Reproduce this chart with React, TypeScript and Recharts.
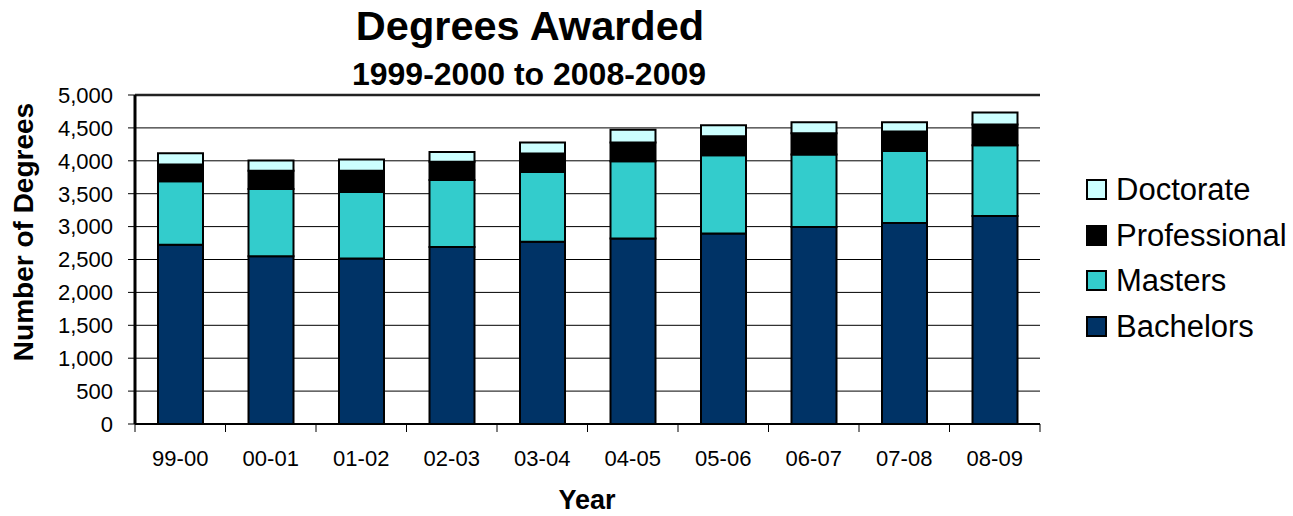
import React from 'react';
import {
  BarChart,
  Bar,
  XAxis,
  YAxis,
  CartesianGrid,
  ReferenceLine
} from 'recharts';

const years = ['99-00', '00-01', '01-02', '02-03', '03-04', '04-05', '05-06', '06-07', '07-08', '08-09'];
const bachelors = [2725, 2550, 2515, 2690, 2770, 2820, 2895, 2995, 3055, 3160];
const masters = [965, 1020, 1010, 1020, 1060, 1175, 1190, 1100, 1095, 1075];
const professional = [255, 280, 325, 275, 280, 285, 290, 325, 295, 315];
const doctorate = [170, 155, 170, 150, 170, 190, 165, 165, 140, 185];
const yTicks = [0, 500, 1000, 1500, 2000, 2500, 3000, 3500, 4000, 4500, 5000];

const series = [
  { key: 'bachelors', name: 'Bachelors', color: '#003366' },
  { key: 'masters', name: 'Masters', color: '#33CCCC' },
  { key: 'professional', name: 'Professional', color: '#000000' },
  { key: 'doctorate', name: 'Doctorate', color: '#CCFFFF' }
];

const data = years.map((year, i) => ({
  year,
  bachelors: bachelors[i],
  masters: masters[i],
  professional: professional[i],
  doctorate: doctorate[i]
}));

const FONT = "Arial, 'Liberation Sans', Helvetica, sans-serif";
const W = 1293;
const H = 516;
const margin = { top: 95, right: 253, left: 0, bottom: 32 };
const Y_AXIS_W = 135;
const X_AXIS_H = 60;
const plotW = W - margin.left - margin.right - Y_AXIS_W;
const band = plotW / years.length;

// Excel style: tick marks sit between the categories, labels in the middle
const XTick = (props: any) => {
  const { x, y, payload, index } = props;
  const half = band / 2;
  const isLast = index === years.length - 1 || payload.value === years[years.length - 1];
  return (
    <g>
      <line x1={x - half} x2={x - half} y1={y - 8} y2={y} stroke="#000" strokeWidth={1} />
      {isLast && <line x1={x + half} x2={x + half} y1={y - 8} y2={y} stroke="#000" strokeWidth={1} />}
      <text x={x} y={y + 34} textAnchor="middle" fontSize={22} fontFamily={FONT} fill="#000">
        {payload.value}
      </text>
    </g>
  );
};

const formatTick = (v: number) => v.toLocaleString('en-US');

export default function App() {
  return (
    <div style={{ position: 'absolute', left: 0, top: 0, width: W, height: H, background: '#fff', fontFamily: FONT }}>
      <BarChart width={W} height={H} data={data} margin={margin} barSize={45}>
        <CartesianGrid yAxisId="left" vertical={false} stroke="#000" strokeWidth={1} />
        <XAxis
          dataKey="year"
          height={X_AXIS_H}
          tickLine={false}
          tickSize={8}
          tickMargin={0}
          axisLine={{ stroke: '#000', strokeWidth: 2 }}
          tick={<XTick />}
          interval={0}
        />
        <YAxis
          yAxisId="left"
          width={Y_AXIS_W}
          domain={[0, 5000]}
          ticks={yTicks}
          tickFormatter={formatTick}
          tickSize={7}
          tickMargin={15}
          tickLine={{ stroke: '#000' }}
          axisLine={{ stroke: '#000', strokeWidth: 3 }}
          tick={{ fontSize: 22, fontFamily: FONT, fill: '#000' }}
          interval={0}
        />
        <YAxis
          yAxisId="right"
          orientation="right"
          width={0}
          domain={[0, 5000]}
          tick={false}
          tickLine={false}
          axisLine={{ stroke: '#808080', strokeWidth: 2 }}
        />
        <ReferenceLine yAxisId="left" y={5000} stroke="#222" strokeWidth={2.5} />
        {series.map(s => (
          <Bar
            key={s.key}
            yAxisId="left"
            dataKey={s.key}
            name={s.name}
            stackId="deg"
            fill={s.color}
            stroke="#000"
            strokeWidth={2}
            isAnimationActive={false}
          />
        ))}
      </BarChart>

      <svg width={W} height={H} style={{ position: 'absolute', left: 0, top: 0, pointerEvents: 'none' }}>
        <text x={530} y={40} textAnchor="middle" fontSize={41.5} fontWeight="bold" fontFamily={FONT} fill="#000">
          Degrees Awarded
        </text>
        <text x={529} y={85} textAnchor="middle" fontSize={32} fontWeight="bold" fontFamily={FONT} fill="#000">
          1999-2000 to 2008-2009
        </text>
        <text x={587} y={509} textAnchor="middle" fontSize={27} fontWeight="bold" fontFamily={FONT} fill="#000">
          Year
        </text>
        <text
          x={33}
          y={232}
          textAnchor="middle"
          fontSize={28}
          fontWeight="bold"
          fontFamily={FONT}
          fill="#000"
          transform="rotate(-90 33 232)"
        >
          Number of Degrees
        </text>
      </svg>

      <div style={{ position: 'absolute', left: 1086, top: 167 }}>
        {[...series].reverse().map(s => (
          <div key={s.key} style={{ display: 'flex', alignItems: 'center', height: 45.5 }}>
            <div
              style={{
                width: 17,
                height: 17,
                background: s.color,
                border: '2px solid #000',
                marginRight: 9
              }}
            />
            <span style={{ fontSize: 31, lineHeight: '31px', color: '#000', fontFamily: FONT }}>{s.name}</span>
          </div>
        ))}
      </div>
    </div>
  );
}
